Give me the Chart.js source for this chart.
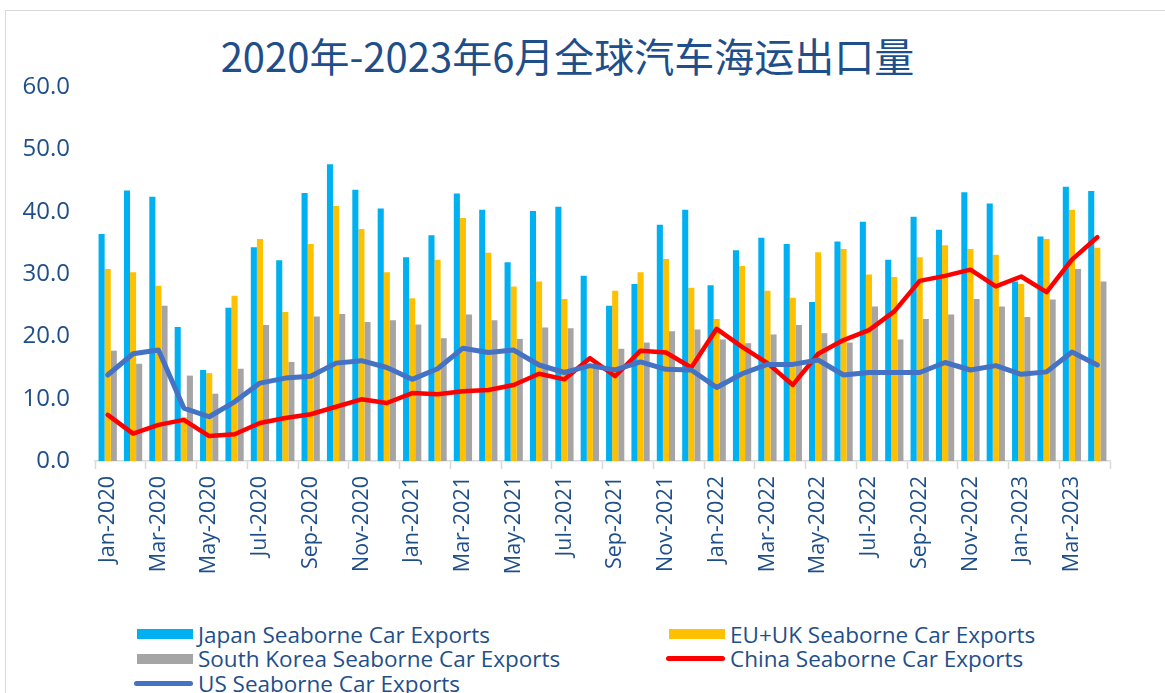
<!DOCTYPE html>
<html>
<head>
<meta charset="utf-8">
<script src="https://cdn.jsdelivr.net/npm/chart.js@4/dist/chart.umd.min.js"></script>
<style>
    html, body { margin: 0; padding: 0; background: #fff; overflow: hidden; }
    body { width: 1165px; height: 693px; position: relative; font-family: 'Open Sans', sans-serif; }
    .frame { position: absolute; left: 5px; top: 10px; width: 1300px; height: 800px; border: 1px solid #d9d9d9; }
    .title { position: absolute; left: 0; top: 30px; width: 1135px; text-align: center; font-family: 'Noto Sans CJK SC', sans-serif; font-size: 40px; line-height: 50px; color: #1f4f8a; }
    #chartWrap { position: absolute; left: 0; top: 0; width: 1165px; height: 610px; }
    .legend { position: absolute; left: 133px; top: 622px; display: grid; grid-template-columns: 532px 420px; grid-auto-rows: 24.5px; }
    .legend-item { display: flex; align-items: center; font-size: 22.5px; color: #1f4f8a; white-space: nowrap; }
    .swatch { width: 61px; height: 24px; position: relative; margin-right: 4px; }
    .swatch span { position: absolute; }
</style>
</head>
<body>
<div class="frame"></div>
<div class="title">2020年-2023年6月全球汽车海运出口量</div>
<div id="chartWrap"><canvas id="exportChart"></canvas></div>
<div class="legend" id="legend"></div>

<script>
const months = [
    'Jan-2020', 'Feb-2020', 'Mar-2020', 'Apr-2020', 'May-2020', 'Jun-2020', 'Jul-2020', 'Aug-2020', 'Sep-2020', 'Oct-2020', 'Nov-2020', 'Dec-2020',
    'Jan-2021', 'Feb-2021', 'Mar-2021', 'Apr-2021', 'May-2021', 'Jun-2021', 'Jul-2021', 'Aug-2021', 'Sep-2021', 'Oct-2021', 'Nov-2021', 'Dec-2021',
    'Jan-2022', 'Feb-2022', 'Mar-2022', 'Apr-2022', 'May-2022', 'Jun-2022', 'Jul-2022', 'Aug-2022', 'Sep-2022', 'Oct-2022', 'Nov-2022', 'Dec-2022',
    'Jan-2023', 'Feb-2023', 'Mar-2023', 'Apr-2023'
];

const japan = [
    36.4, 43.4, 42.4, 21.5, 14.6, 24.6, 34.3, 32.2, 43.0, 47.6, 43.5, 40.5,
    32.7, 36.2, 42.9, 40.3, 31.9, 40.1, 40.8, 29.7, 24.9, 28.4, 37.9, 40.3,
    28.2, 33.8, 35.8, 34.8, 25.5, 35.2, 38.4, 32.3, 39.2, 37.1, 43.1, 41.3,
    28.8, 36.0, 44.0, 43.3
];
const euUk = [
    30.8, 30.3, 28.1, 7.0, 14.1, 26.5, 35.6, 23.9, 34.8, 40.9, 37.2, 30.3,
    26.1, 32.3, 39.0, 33.4, 28.0, 28.8, 26.0, 15.0, 27.3, 30.3, 32.4, 27.8,
    22.8, 31.3, 27.3, 26.2, 33.5, 34.0, 29.9, 29.5, 32.7, 34.6, 34.0, 33.1,
    28.4, 35.6, 40.3, 34.2
];
const korea = [
    17.7, 15.6, 24.9, 13.7, 10.8, 14.8, 21.8, 15.9, 23.2, 23.6, 22.3, 22.6,
    21.9, 19.7, 23.5, 22.6, 19.6, 21.4, 21.3, 15.5, 18.0, 19.0, 20.8, 21.1,
    19.5, 18.9, 20.3, 21.8, 20.5, 19.0, 24.8, 19.5, 22.8, 23.5, 26.0, 24.8,
    23.1, 25.9, 30.8, 28.8
];
const china = [
    7.4, 4.4, 5.8, 6.6, 4.0, 4.3, 6.1, 6.9, 7.5, 8.7, 9.9, 9.3,
    10.9, 10.7, 11.2, 11.4, 12.2, 14.0, 13.1, 16.5, 13.6, 17.7, 17.4, 15.0,
    21.2, 18.3, 15.7, 12.2, 17.2, 19.4, 21.0, 24.0, 28.9, 29.7, 30.7, 28.0,
    29.6, 27.1, 32.3, 35.9
];
const us = [
    13.8, 17.2, 17.8, 8.5, 7.1, 9.5, 12.5, 13.3, 13.6, 15.7, 16.1, 15.0,
    13.1, 14.8, 18.1, 17.4, 17.8, 15.4, 14.2, 15.3, 14.6, 15.9, 14.7, 14.6,
    11.8, 14.0, 15.5, 15.5, 16.2, 13.8, 14.2, 14.2, 14.2, 15.8, 14.6, 15.3,
    13.9, 14.3, 17.5, 15.4
];

const yTicks = [0, 10, 20, 30, 40, 50, 60];

const textColor = '#1f4f8a';
const axisGray = '#d9d9d9';

function barSet(label, data, color) {
    return {
        type: 'bar', label, data,
        backgroundColor: color,
        borderWidth: 0,
        categoryPercentage: 0.72,
        barPercentage: 1.0,
        order: 3
    };
}

function lineSet(label, data, color, width, order) {
    return {
        type: 'line', label, data,
        borderColor: color,
        backgroundColor: color,
        borderWidth: width,
        pointRadius: 0,
        tension: 0,
        borderJoinStyle: 'round',
        borderCapStyle: 'round',
        fill: false,
        order
    };
}

const chart = new Chart(document.getElementById('exportChart').getContext('2d'), {
    data: {
        labels: months,
        datasets: [
            barSet('Japan Seaborne Car Exports', japan, '#00b0f0'),
            barSet('EU+UK Seaborne Car Exports', euUk, '#ffc000'),
            barSet('South Korea Seaborne Car Exports', korea, '#a5a5a5'),
            lineSet('China Seaborne Car Exports', china, '#ff0000', 4.5, 2),
            lineSet('US Seaborne Car Exports', us, '#4472c4', 5, 1)
        ]
    },
    options: {
        responsive: true,
        maintainAspectRatio: false,
        animation: false,
        layout: { padding: { top: 87, left: 15, right: 55, bottom: 29 } },
        plugins: {
            legend: { display: false },
            tooltip: { enabled: false },
            title: { display: false }
        },
        scales: {
            x: {
                offset: true,
                afterFit: scale => { scale.height = 120; },
                grid: {
                    offset: true,
                    drawOnChartArea: false,
                    drawTicks: true,
                    tickLength: 8,
                    tickWidth: 1.5,
                    tickColor: ctx => (ctx.index === undefined || ctx.index % 2 === 0) ? axisGray : 'rgba(0,0,0,0)'
                },
                border: { color: axisGray, width: 1.5 },
                ticks: {
                    autoSkip: false,
                    maxRotation: 90,
                    minRotation: 90,
                    padding: 7,
                    color: textColor,
                    font: { family: "'Open Sans', sans-serif", size: 21.5 },
                    callback: (v, i) => i % 2 === 0 ? months[i] : ''
                }
            },
            y: {
                min: 0,
                max: 60,
                afterFit: scale => { scale.width = 80; },
                afterBuildTicks: scale => { scale.ticks = yTicks.map(v => ({ value: v })); },
                grid: { display: false, drawTicks: false },
                border: { display: false },
                ticks: {
                    padding: 25,
                    color: textColor,
                    font: { family: "'Open Sans', sans-serif", size: 24 },
                    callback: v => v.toFixed(1)
                }
            }
        }
    }
});

// legend drawn in html, two columns like the original
const legendEl = document.getElementById('legend');
chart.data.datasets.forEach(ds => {
    const item = document.createElement('div');
    item.className = 'legend-item';
    const sw = document.createElement('div');
    sw.className = 'swatch';
    const mark = document.createElement('span');
    if (ds.type === 'bar') {
        mark.style.cssText = `left:4px;top:7px;width:56px;height:10px;background:${ds.backgroundColor}`;
    } else {
        mark.style.cssText = `left:1px;top:9.5px;width:59px;height:5px;border-radius:3px;background:${ds.borderColor}`;
    }
    sw.appendChild(mark);
    item.appendChild(sw);
    item.appendChild(document.createTextNode(ds.label));
    legendEl.appendChild(item);
});
</script>
</body>
</html>
